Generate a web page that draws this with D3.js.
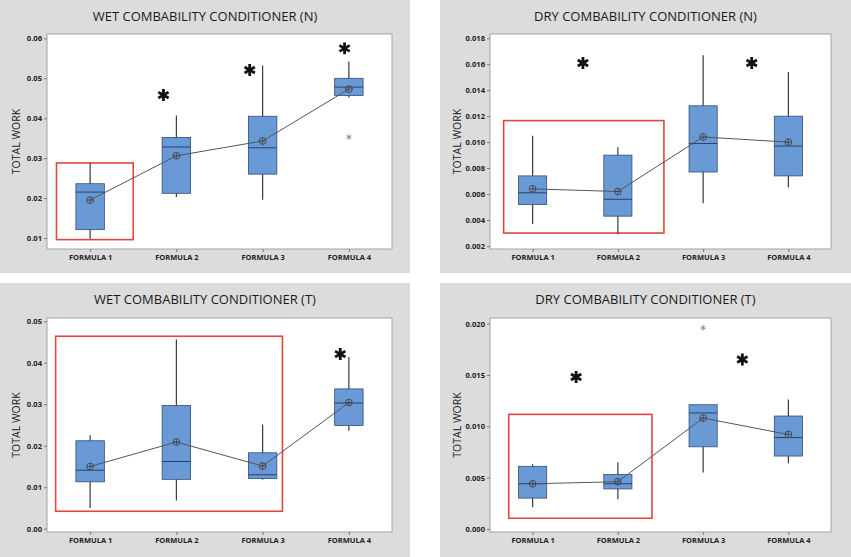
<!DOCTYPE html>
<html>
<head>
<meta charset="utf-8">
<script src="https://cdn.jsdelivr.net/npm/d3@7"></script>
<style>
  html, body { margin: 0; padding: 0; background: #fff; }
  svg { display: block; font-family: 'Open Sans', sans-serif; }
</style>
</head>
<body>
<svg id="chart" width="851" height="557"></svg>
<script>
const categories = ['FORMULA 1', 'FORMULA 2', 'FORMULA 3', 'FORMULA 4']

// per formula: whisker low, Q1, median, Q3, whisker high, mean
const wetN = [
  [0.0098, 0.0121, 0.0215, 0.0236, 0.0288, 0.0195],
  [0.0203, 0.0212, 0.0328, 0.0352, 0.0407, 0.0306],
  [0.0196, 0.0260, 0.0326, 0.0405, 0.0532, 0.0343],
  [0.0452, 0.0457, 0.0478, 0.0500, 0.0542, 0.0473]
]
const dryN = [
  [0.0037, 0.0052, 0.0061, 0.0074, 0.0105, 0.0064],
  [0.0029, 0.0043, 0.0056, 0.0090, 0.0096, 0.0062],
  [0.0053, 0.0077, 0.0099, 0.0128, 0.0167, 0.0104],
  [0.0065, 0.0074, 0.0097, 0.0120, 0.0154, 0.0100]
]
const wetT = [
  [0.0050, 0.0113, 0.0141, 0.0212, 0.0225, 0.0150],
  [0.0068, 0.0119, 0.0162, 0.0297, 0.0456, 0.0209],
  [0.0118, 0.0121, 0.0130, 0.0183, 0.0251, 0.0151],
  [0.0236, 0.0249, 0.0303, 0.0337, 0.0414, 0.0304]
]
const dryT = [
  [0.0021, 0.0030, 0.0044, 0.0061, 0.0063, 0.0044],
  [0.0029, 0.0039, 0.0044, 0.0053, 0.0065, 0.0046],
  [0.0055, 0.0080, 0.0113, 0.0121, 0.0121, 0.0108],
  [0.0064, 0.0071, 0.0089, 0.0110, 0.0126, 0.0092]
]

// outliers: [formula index, value]
const wetNOutliers = [[3, 0.0353]]
const dryTOutliers = [[2, 0.0196]]

// significance stars: [position in formula units, value]
const wetNStars = [[0.85, 0.0458], [1.85, 0.0521], [2.95, 0.0575]]
const dryNStars = [[0.59, 0.0161], [2.57, 0.0161]]
const wetTStars = [[2.9, 0.0421]]
const dryTStars = [[0.51, 0.0148], [2.46, 0.0165]]

// highlight boxes: [from, to (formula units), low value, high value]
const wetNHighlight = [-0.39, 0.5, 0.0096, 0.0288]
const dryNHighlight = [-0.34, 1.54, 0.0030, 0.01166]
const wetTHighlight = [-0.40, 2.23, 0.0042, 0.0464]
const dryTHighlight = [-0.28, 1.40, 0.00104, 0.01116]

const wetNTicks = [0.01, 0.02, 0.03, 0.04, 0.05, 0.06]
const dryNTicks = [0.002, 0.004, 0.006, 0.008, 0.010, 0.012, 0.014, 0.016, 0.018]
const wetTTicks = [0.00, 0.01, 0.02, 0.03, 0.04, 0.05]
const dryTTicks = [0.000, 0.005, 0.010, 0.015, 0.020]

const panels = [
  { title: 'WET COMBABILITY CONDITIONER (N)', rows: wetN, outliers: wetNOutliers, stars: wetNStars,
    highlight: wetNHighlight, ticks: wetNTicks, fmt: '.2f', domain: [0.00725, 0.0611],
    x: 0, y: 0, w: 410, h: 273 },
  { title: 'DRY COMBABILITY CONDITIONER (N)', rows: dryN, outliers: [], stars: dryNStars,
    highlight: dryNHighlight, ticks: dryNTicks, fmt: '.3f', domain: [0.00177, 0.01833],
    x: 440, y: 0, w: 411, h: 273 },
  { title: 'WET COMBABILITY CONDITIONER (T)', rows: wetT, outliers: [], stars: wetTStars,
    highlight: wetTHighlight, ticks: wetTTicks, fmt: '.2f', domain: [-0.0008, 0.0508],
    x: 0, y: 283, w: 410, h: 274 },
  { title: 'DRY COMBABILITY CONDITIONER (T)', rows: dryT, outliers: dryTOutliers, stars: dryTStars,
    highlight: dryTHighlight, ticks: dryTTicks, fmt: '.3f', domain: [-0.0003, 0.02055],
    x: 440, y: 283, w: 411, h: 274 }
]

const svg = d3.select('#chart')
panels.forEach(p => drawPanel(svg, p))

function drawPanel(svg, p) {
  const BOX_COLOR = '#6a9ad5'
  const DARK = '#3a3a3a'
  // left offset of the plot differs with label width
  const m = { left: p.fmt === '.3f' ? 50 : 47, right: p.fmt === '.3f' ? 20 : 18, top: p.y === 0 ? 34 : 35, bottom: p.y === 0 ? 24 : 25 }
  const g = svg.append('g').attr('transform', `translate(${p.x}, ${p.y})`)

  g.append('rect')
    .attr('width', p.w)
    .attr('height', p.h)
    .attr('fill', '#dcdcdc')

  const pw = p.w - m.left - m.right
  const ph = p.h - m.top - m.bottom
  const plot = g.append('g').attr('transform', `translate(${m.left}, ${m.top})`)

  plot.append('rect')
    .attr('width', pw)
    .attr('height', ph)
    .attr('fill', '#fff')
    .attr('stroke', '#a3a3a3')

  const x = d3.scalePoint().domain(categories).range([0, pw]).padding(0.5)
  const xi = d3.scaleLinear().domain([0, categories.length - 1])
    .range([x(categories[0]), x(categories[categories.length - 1])])
  const y = d3.scaleLinear().domain(p.domain).range([ph, 0])
  const bw = x.step() * 0.33

  const yAxis = plot.append('g')
    .call(d3.axisLeft(y).tickValues(p.ticks).tickFormat(d3.format(p.fmt)).tickSize(3).tickPadding(2))
  yAxis.select('.domain').remove()
  yAxis.selectAll('line').attr('stroke', '#777')
  yAxis.selectAll('text')
    .attr('font-size', 7.6)
    .attr('font-weight', 700)
    .attr('fill', '#222')
    .attr('font-family', "'Open Sans', sans-serif")

  const xAxis = plot.append('g')
    .attr('transform', `translate(0, ${ph})`)
    .call(d3.axisBottom(x).tickSize(3).tickPadding(3))
  xAxis.select('.domain').remove()
  xAxis.selectAll('line').attr('stroke', '#777')
  xAxis.selectAll('text')
    .attr('font-size', 7.5)
    .attr('font-weight', 700)
    .attr('fill', '#222')
    .attr('font-family', "'Open Sans', sans-serif")

  // red highlight
  const [h0, h1, hlo, hhi] = p.highlight
  plot.append('rect')
    .attr('x', xi(h0))
    .attr('y', y(hhi))
    .attr('width', xi(h1) - xi(h0))
    .attr('height', y(hlo) - y(hhi))
    .attr('fill', 'none')
    .attr('stroke', '#e2463e')
    .attr('stroke-width', 1.6)

  const rows = p.rows.map((r, i) => ({
    cat: categories[i], low: r[0], q1: r[1], med: r[2], q3: r[3], high: r[4], mean: r[5]
  }))

  const box = plot.selectAll('.box').data(rows).enter().append('g')

  box.append('line')
    .attr('x1', d => x(d.cat)).attr('x2', d => x(d.cat))
    .attr('y1', d => y(d.high)).attr('y2', d => y(d.low))
    .attr('stroke', DARK)
    .attr('stroke-width', 1.2)

  box.append('rect')
    .attr('x', d => x(d.cat) - bw / 2)
    .attr('y', d => y(d.q3))
    .attr('width', bw)
    .attr('height', d => y(d.q1) - y(d.q3))
    .attr('fill', BOX_COLOR)
    .attr('stroke', '#2f4f78')
    .attr('stroke-width', 0.8)

  box.append('line')
    .attr('x1', d => x(d.cat) - bw / 2).attr('x2', d => x(d.cat) + bw / 2)
    .attr('y1', d => y(d.med)).attr('y2', d => y(d.med))
    .attr('stroke', '#2a4066')
    .attr('stroke-width', 1)

  plot.append('path')
    .datum(rows)
    .attr('d', d3.line().x(d => x(d.cat)).y(d => y(d.mean)))
    .attr('fill', 'none')
    .attr('stroke', '#555')
    .attr('stroke-width', 1)

  const mean = plot.selectAll('.mean').data(rows).enter().append('g')
    .attr('transform', d => `translate(${x(d.cat)}, ${y(d.mean)})`)
  mean.append('circle')
    .attr('r', 3.4)
    .attr('fill', 'none')
    .attr('stroke', '#444')
    .attr('stroke-width', 0.9)
  mean.append('path')
    .attr('d', 'M-3.4,0H3.4M0,-3.4V3.4')
    .attr('stroke', '#444')
    .attr('stroke-width', 0.8)

  plot.selectAll('.outlier').data(p.outliers).enter().append('path')
    .attr('transform', d => `translate(${xi(d[0])}, ${y(d[1])})`)
    .attr('d', d3.symbol(d3.symbolAsterisk, 22))
    .attr('stroke', '#8a8a8a')
    .attr('stroke-width', 1)

  plot.selectAll('.star').data(p.stars).enter().append('path')
    .attr('transform', d => `translate(${xi(d[0])}, ${y(d[1])})`)
    .attr('d', d3.symbol(d3.symbolAsterisk, 100))
    .attr('stroke', '#111')
    .attr('stroke-width', 2.8)

  g.append('text')
    .attr('x', p.w / 2)
    .attr('y', 21)
    .attr('text-anchor', 'middle')
    .attr('font-size', 13)
    .attr('fill', '#1a1a1a')
    .text(p.title)

  g.append('text')
    .attr('transform', `translate(${p.x === 0 ? 20 : 21}, ${m.top + ph / 2}) rotate(-90)`)
    .attr('text-anchor', 'middle')
    .attr('font-size', 10.5)
    .attr('fill', '#1a1a1a')
    .text('TOTAL WORK')
}
</script>
</body>
</html>
